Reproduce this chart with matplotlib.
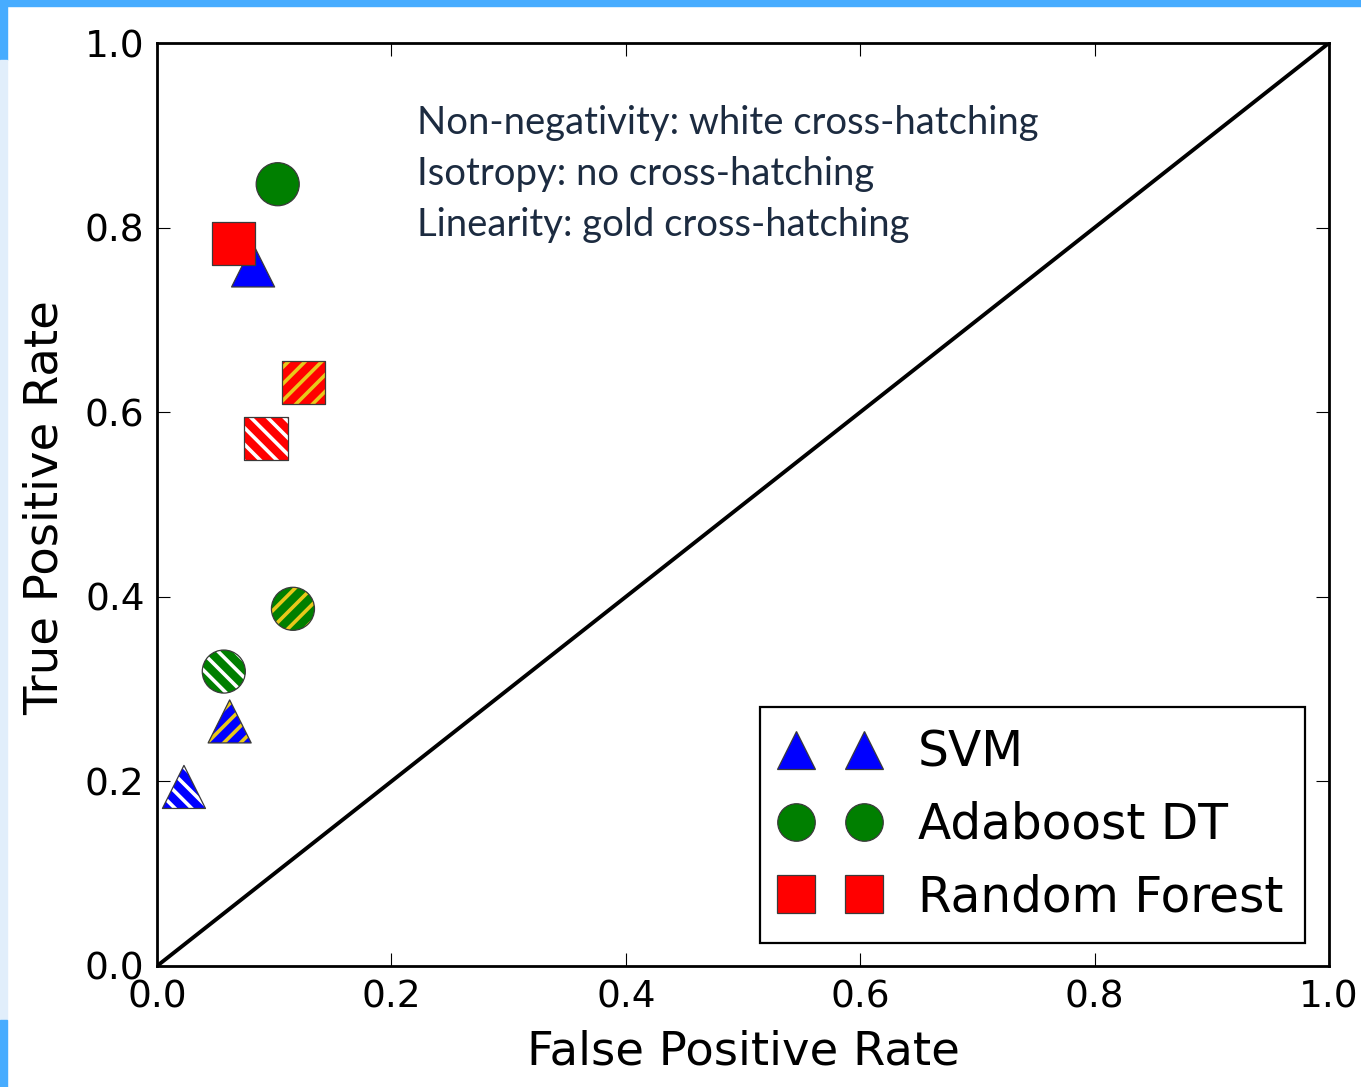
import matplotlib
matplotlib.use('Agg')
import matplotlib.pyplot as plt
from matplotlib.lines import Line2D
from matplotlib.patches import Rectangle


### ROC points: [isotropy (plain), non-negativity (white hatch), linearity (gold hatch)]
model_names = ['SVM', 'Adaboost DT', 'Random Forest']
model_markers = ['^', 'o', 's']
model_colors = ['#0000ff', '#007f00', '#ff0000']

svm_fpr = [0.082, 0.023, 0.062]
svm_tpr = [0.759, 0.194, 0.265]
ada_fpr = [0.103, 0.057, 0.116]
ada_tpr = [0.847, 0.319, 0.387]
rf_fpr = [0.065, 0.093, 0.125]
rf_tpr = [0.783, 0.571, 0.632]

hatches = [None, '\\\\', '//']
hatch_colors = [None, 'white', '#e8c81a']

notes = ['Non-negativity: white cross-hatching',
         'Isotropy: no cross-hatching',
         'Linearity: gold cross-hatching']

ticks = [0.0, 0.2, 0.4, 0.6, 0.8, 1.0]

plt.rcParams['hatch.linewidth'] = 2.6

fig = plt.figure(figsize=(13.61, 10.87), dpi=100)
ax = fig.add_axes([157/1361, 1 - 966/1087, 1172/1361, 923/1087])

#### slide decoration round the picture
fig.patches.append(Rectangle((0, 1 - 6/1087), 1, 6/1087, transform=fig.transFigure,
                             color='#47acff', zorder=0))
fig.patches.append(Rectangle((0, 1 - 60/1087), 7/1361, 60/1087, transform=fig.transFigure,
                             color='#47acff', zorder=0))
fig.patches.append(Rectangle((0, 67/1087), 7/1361, (1020 - 60)/1087, transform=fig.transFigure,
                             color='#e1eefb', zorder=0))
fig.patches.append(Rectangle((0, 0), 7/1361, 67/1087, transform=fig.transFigure,
                             color='#47acff', zorder=0))

ax.plot([0, 1], [0, 1], color='black', lw=2.8, zorder=1)

size = 31 ** 2
all_fpr = [svm_fpr, ada_fpr, rf_fpr]
all_tpr = [svm_tpr, ada_tpr, rf_tpr]
for m in range(3):
    for k in range(3):
        x, y = all_fpr[m][k], all_tpr[m][k]
        ax.scatter([x], [y], s=size, marker=model_markers[m], c=model_colors[m],
                   edgecolors='none', zorder=3 + m)
        if hatches[k]:
            ax.scatter([x], [y], s=size, marker=model_markers[m], facecolors='none',
                       edgecolors=hatch_colors[k], linewidths=0, hatch=hatches[k],
                       zorder=3 + m)
        ax.scatter([x], [y], s=size, marker=model_markers[m], facecolors='none',
                   edgecolors='#3a3a3a', linewidths=0.9, zorder=3 + m)

#### note text
for i, line in enumerate(notes):
    ax.text(0.2218, 0.9014 - i * 0.0553, line, fontsize=27.5, family='Lato',
            color='#1c2b40', va='baseline', ha='left', zorder=6)

#### axes styling
ax.set_xlim(0, 1)
ax.set_ylim(0, 1)
ax.set_xticks(ticks)
ax.set_yticks(ticks)
ax.set_xticklabels(['%.1f' % t for t in ticks])
ax.set_yticklabels(['%.1f' % t for t in ticks])
ax.tick_params(direction='in', length=9.5, width=0.8, labelsize=27, pad=9,
               top=True, right=True, colors='black')
ax.tick_params(axis='x', pad=10)
for sp in ax.spines.values():
    sp.set_linewidth(2.0)

ax.set_xlabel('False Positive Rate', fontsize=33.5)
ax.set_ylabel('True Positive Rate', fontsize=33.5)
ax.xaxis.set_label_coords(0.5, -0.069)
ax.yaxis.set_label_coords(-0.076, 0.497)

#### legend with plain markers
handles = [Line2D([], [], linestyle='none', marker=model_markers[m], markersize=27,
                  markerfacecolor=model_colors[m], markeredgecolor='#3a3a3a',
                  markeredgewidth=0.9) for m in range(3)]
leg = ax.legend(handles, model_names, loc='lower right', bbox_to_anchor=(0.9795, 0.0249),
                borderaxespad=0, numpoints=2, fontsize=35, fancybox=False,
                framealpha=1, edgecolor='black', borderpad=0.45)
leg.get_frame().set_linewidth(1.6)
leg.set_zorder(7)

fig.savefig('out.png', dpi=100)
